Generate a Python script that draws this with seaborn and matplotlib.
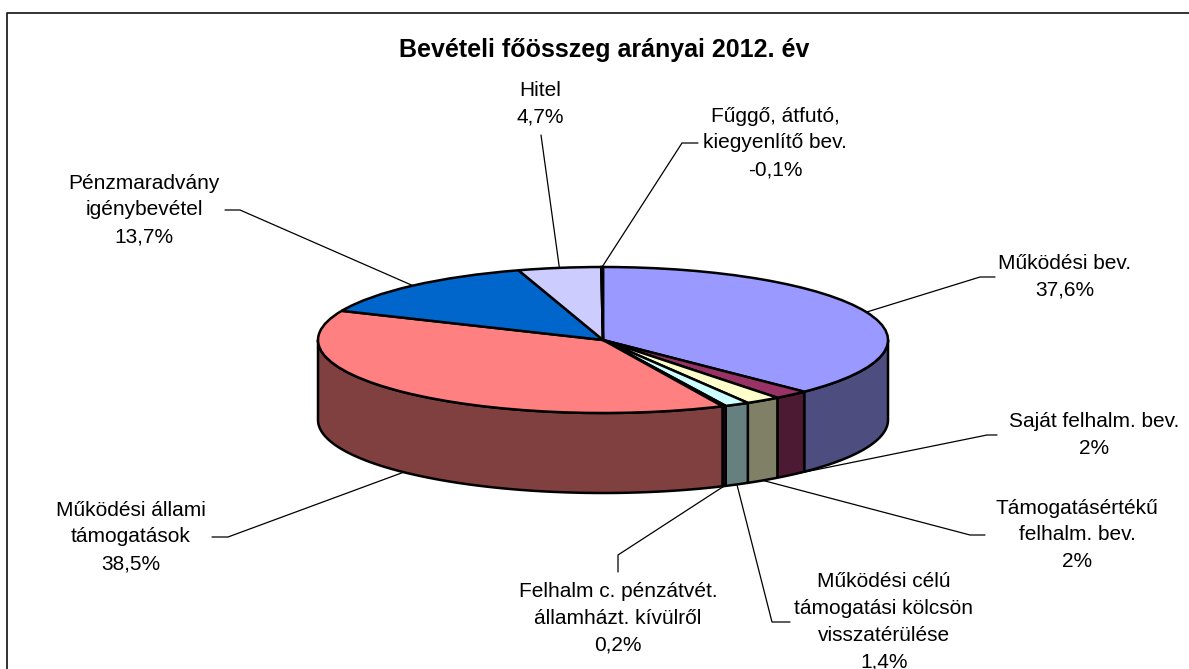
import numpy as np
import matplotlib
matplotlib.use("Agg")
import matplotlib.pyplot as plt
import seaborn as sns

# ---------------- data ----------------
categories = [
    "Működési bev.",
    "Saját felhalm. bev.",
    "Támogatásértékű\nfelhalm. bev.",
    "Működési célú\ntámogatási kölcsön\nvisszatérülése",
    "Felhalm c. pénzátvét.\nállamházt. kívülről",
    "Működési állami\ntámogatások",
    "Pénzmaradvány\nigénybevétel",
    "Hitel",
    "Fűggő, átfutó,\nkiegyenlítő bev.",
]
shares = [37.6, 2, 2, 1.4, 0.2, 38.5, 13.7, 4.7, -0.1]
title = "Bevételi főösszeg arányai 2012. év"

# ---------------- styles ----------------
top_colors = ["#9999FF", "#993366", "#FFFFCC", "#CCFFFF", "#660066",
              "#FF8080", "#0066CC", "#CCCCFF", "#000080"]
side_colors = ["#4D4D80", "#4D1A33", "#808066", "#668080", "#330033",
               "#804040", "#003366", "#666680", "#000040"]

# label centers (pixels) and leader stubs: (start, elbow)
label_pos = [(1065, 277), (1094, 435), (1077, 535), (884, 622), (618, 618),
             (131, 537), (144, 210), (540, 104), (775, 143)]
stubs = [((995, 277), (980, 277)), ((997, 435), (987, 435)),
         ((985, 535), (970, 535)), ((790, 622), (772, 622)),
         ((618, 572), (618, 555)), ((212, 537), (228, 537)),
         ((225, 210), (240, 210)), ((541, 135), (541, 135)),
         ((698, 143), (682, 143))]

W, H = 1189, 669
CX, CY, RX, RY, DEPTH = 603, 340, 285, 73, 80

sns.set_theme(style="white")
plt.rcParams["font.family"] = ["Liberation Sans", "DejaVu Sans"]

fig = plt.figure(figsize=(W / 100, H / 100), dpi=100)
ax = fig.add_axes([0, 0, 1, 1])


def px(x, y):
    return (x - CX) / RX, (CY - y) / RY


d = DEPTH / RY
vals = np.abs(np.array(shares, dtype=float))
frac = vals / vals.sum()
cum = np.concatenate([[0], np.cumsum(frac)])

# side walls (front half only)
for i in range(len(vals)):
    t_hi = 90 - 360 * cum[i]
    t_lo = 90 - 360 * cum[i + 1]
    a, b = max(t_lo, -180), min(t_hi, 0)
    if a < b:
        th = np.radians(np.linspace(a, b, 100))
        xs = np.concatenate([np.cos(th), np.cos(th[::-1])])
        ys = np.concatenate([np.sin(th), np.sin(th[::-1]) - d])
        ax.fill(xs, ys, facecolor=side_colors[i], edgecolor="black",
                linewidth=1.8, zorder=1, joinstyle="round")

# top face
wedges, _ = ax.pie(vals, colors=top_colors, startangle=90, counterclock=False,
                   wedgeprops=dict(edgecolor="black", linewidth=1.8))
for w in wedges:
    w.set_zorder(2)

ax.set_aspect("auto")
ax.set_xlim(-CX / RX, (W - CX) / RX)
ax.set_ylim(-(H - CY) / RY, CY / RY)
ax.axis("off")

# labels and leader lines
for i, cat in enumerate(categories):
    mid = np.radians(90 - 360 * (cum[i] + cum[i + 1]) / 2)
    ax_x, ax_y = np.cos(mid), np.sin(mid)
    if ax_y < 0:
        ax_y -= d
    s0 = px(*stubs[i][0])
    s1 = px(*stubs[i][1])
    ax.plot([s0[0], s1[0], ax_x], [s0[1], s1[1], ax_y], color="black",
            linewidth=0.9, zorder=3, solid_joinstyle="miter")
    txt = f"{shares[i]:g}".replace(".", ",") + "%"
    lx, ly = px(*label_pos[i])
    ax.text(lx, ly, f"{cat}\n{txt}", ha="center", va="center",
            fontsize=15, linespacing=1.52, color="black", zorder=4)

tx, ty = px(604, 50)
ax.text(tx, ty, title, ha="center", va="center", fontsize=18,
        fontweight="bold", color="black")

# chart area border (continues past the visible image)
b0 = px(7, 13)
b1 = px(W + 10, H + 10)
ax.plot([b0[0], b0[0], b1[0]], [b1[1], b0[1], b0[1]], color="#222222",
        linewidth=1.3, clip_on=False)

fig.savefig("out.png", dpi=100)
